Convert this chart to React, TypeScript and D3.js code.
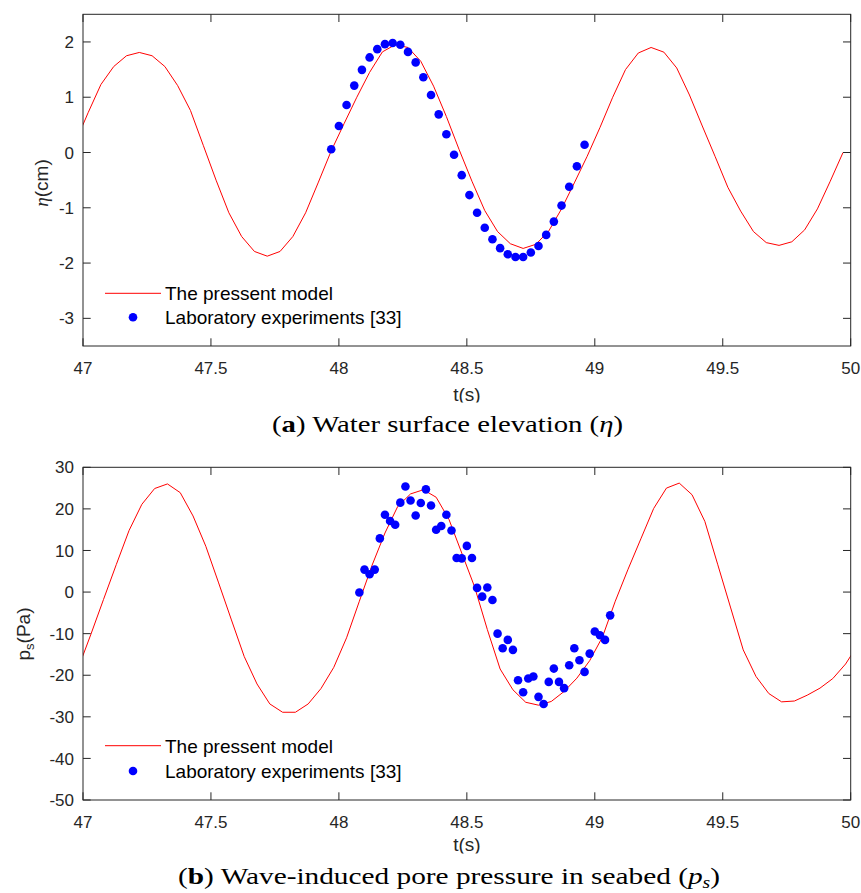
import React from 'react';
import * as d3 from 'd3';

// ---------- data ----------
const modelTimeA = [46.97, 47.02, 47.07, 47.12, 47.17, 47.22, 47.27, 47.32, 47.37, 47.42, 47.47, 47.52, 47.57, 47.62, 47.67, 47.72, 47.77, 47.82, 47.87, 47.92, 47.97, 48.02, 48.07, 48.12, 48.17, 48.22, 48.27, 48.32, 48.37, 48.42, 48.47, 48.52, 48.57, 48.62, 48.67, 48.72, 48.77, 48.82, 48.87, 48.92, 48.97, 49.02, 49.07, 49.12, 49.17, 49.22, 49.27, 49.32, 49.37, 49.42, 49.47, 49.52, 49.57, 49.62, 49.67, 49.72, 49.77, 49.82, 49.87, 49.92, 49.97, 50.0];
const modelEtaA = [0.18, 0.72, 1.23, 1.555, 1.75, 1.81, 1.75, 1.555, 1.21, 0.76, 0.13, -0.5, -1.09, -1.52, -1.79, -1.875, -1.79, -1.52, -1.09, -0.535, 0.03, 0.52, 1.0, 1.45, 1.82, 1.95, 1.9, 1.65, 1.2, 0.65, 0.05, -0.52, -1.05, -1.43, -1.65, -1.735, -1.66, -1.42, -1.02, -0.55, -0.07, 0.45, 1.0, 1.5, 1.8, 1.9, 1.815, 1.53, 1.04, 0.48, -0.07, -0.63, -1.06, -1.43, -1.63, -1.68, -1.615, -1.4, -1.02, -0.52, 0.0, 0.0];

const labTimeA = [47.97, 48.0, 48.03, 48.06, 48.09, 48.12, 48.15, 48.18, 48.21, 48.24, 48.27, 48.3, 48.33, 48.36, 48.39, 48.42, 48.45, 48.48, 48.51, 48.54, 48.57, 48.6, 48.63, 48.66, 48.69, 48.72, 48.75, 48.78, 48.81, 48.84, 48.87, 48.9, 48.93, 48.96];
const labEtaA = [0.06, 0.48, 0.86, 1.21, 1.495, 1.72, 1.87, 1.96, 1.98, 1.95, 1.82, 1.63, 1.36, 1.04, 0.69, 0.33, -0.04, -0.41, -0.77, -1.09, -1.36, -1.57, -1.73, -1.84, -1.89, -1.89, -1.81, -1.69, -1.49, -1.25, -0.96, -0.62, -0.25, 0.14];

const modelTimeB = [46.98, 47.03, 47.08, 47.13, 47.18, 47.23, 47.28, 47.33, 47.38, 47.43, 47.48, 47.53, 47.58, 47.63, 47.68, 47.73, 47.78, 47.83, 47.88, 47.93, 47.98, 48.03, 48.08, 48.13, 48.18, 48.23, 48.28, 48.33, 48.38, 48.43, 48.48, 48.53, 48.58, 48.63, 48.68, 48.73, 48.78, 48.83, 48.88, 48.93, 48.98, 49.03, 49.08, 49.13, 49.18, 49.23, 49.28, 49.33, 49.38, 49.43, 49.48, 49.53, 49.58, 49.63, 49.68, 49.73, 49.78, 49.83, 49.88, 49.93, 49.98, 50.03];
const modelPsB = [-18.5, -10.3, -1.8, 6.6, 14.8, 21.1, 24.9, 26.0, 23.9, 18.3, 11.0, 2.2, -6.7, -15.5, -22.1, -26.9, -28.9, -28.9, -26.9, -23.2, -18.1, -11.0, -2.2, 6.5, 14.2, 20.6, 23.6, 24.6, 22.8, 17.5, 9.4, 1.3, -9.0, -18.5, -23.5, -26.5, -27.2, -26.3, -23.9, -20.7, -16.5, -10.8, -2.2, 5.5, 12.8, 20.1, 25.0, 26.2, 23.4, 17.0, 6.7, -3.6, -13.9, -20.3, -24.4, -26.4, -26.2, -24.8, -23.1, -20.8, -17.3, -12.5];

const labTimeB = [48.08, 48.1, 48.12, 48.14, 48.16, 48.18, 48.2, 48.22, 48.24, 48.26, 48.28, 48.3, 48.32, 48.34, 48.36, 48.38, 48.4, 48.42, 48.44, 48.46, 48.48, 48.5, 48.52, 48.54, 48.56, 48.58, 48.6, 48.62, 48.64, 48.66, 48.68, 48.7, 48.72, 48.74, 48.76, 48.78, 48.8, 48.82, 48.84, 48.86, 48.88, 48.9, 48.92, 48.94, 48.96, 48.98, 49.0, 49.02, 49.04, 49.06];
const labPsB = [-0.1, 5.4, 4.3, 5.4, 12.9, 18.6, 17.1, 16.2, 21.5, 25.4, 22.0, 18.4, 21.4, 24.7, 20.8, 15.0, 15.9, 18.6, 14.8, 8.2, 8.1, 11.1, 8.2, 1.0, -1.1, 1.1, -1.9, -10.0, -13.5, -11.5, -13.9, -21.2, -24.1, -20.8, -20.3, -25.2, -26.9, -21.6, -18.4, -21.6, -23.1, -17.6, -13.5, -16.4, -19.2, -14.8, -9.5, -10.4, -11.5, -5.6];

const xTicks = [47, 47.5, 48, 48.5, 49, 49.5, 50];
const yTicksA = [-3, -2, -1, 0, 1, 2];
const yTicksB = [-50, -40, -30, -20, -10, 0, 10, 20, 30];
const legendLabels = ['The pressent model', 'Laboratory experiments [33]'];

// ---------- layout ----------
const W = 861;
const H = 893;
const PL = 83;
const PR = 850.7;
const SANS = "'Liberation Sans', Arial, Helvetica, sans-serif";
const SERIF = "'Liberation Serif', 'Times New Roman', serif";
const AX = '#262626';
const TICK = 7.7;

type PanelProps = {
  id: string;
  top: number;
  bottom: number;
  yDomain: [number, number];
  yTicks: number[];
  mt: number[];
  mv: number[];
  lt: number[];
  lv: number[];
  legendRows: [number, number];
  yLabel: React.ReactNode;
  xLabelBaseline: number;
  xLabelClip: number;
};

function Panel(p: PanelProps) {
  const x = d3.scaleLinear().domain([47, 50]).range([PL, PR]);
  const y = d3.scaleLinear().domain(p.yDomain).range([p.bottom, p.top]);
  const line = d3
    .line<number>()
    .x((_, i) => x(p.mt[i]))
    .y((d) => y(d));
  const clipId = `clip-${p.id}`;
  const lblClip = `lbl-${p.id}`;
  return (
    <g>
      <defs>
        <clipPath id={clipId}>
          <rect x={PL} y={p.top} width={PR - PL} height={p.bottom - p.top} />
        </clipPath>
        <clipPath id={lblClip}>
          <rect x={0} y={p.bottom} width={W} height={p.xLabelClip - p.bottom} />
        </clipPath>
      </defs>
      <path d={line(p.mv) || ''} fill="none" stroke="#ff0000" strokeWidth={1} clipPath={`url(#${clipId})`} />
      {p.lv.map((v, i) => (
        <circle key={i} cx={x(p.lt[i])} cy={y(v)} r={4.3} fill="#0000ff" />
      ))}
      {/* box */}
      <rect x={PL} y={p.top} width={PR - PL} height={p.bottom - p.top} fill="none" stroke={AX} strokeWidth={1} />
      {xTicks.map((t) => (
        <g key={`x${t}`}>
          <line x1={x(t)} x2={x(t)} y1={p.bottom} y2={p.bottom - TICK} stroke={AX} />
          <line x1={x(t)} x2={x(t)} y1={p.top} y2={p.top + TICK} stroke={AX} />
          <text x={x(t)} y={p.bottom + 27.6} textAnchor="middle" fontFamily={SANS} fontSize={17} fill={AX}>
            {String(t)}
          </text>
        </g>
      ))}
      {p.yTicks.map((t) => (
        <g key={`y${t}`}>
          <line x1={PL} x2={PL + TICK} y1={y(t)} y2={y(t)} stroke={AX} />
          <line x1={PR} x2={PR - TICK} y1={y(t)} y2={y(t)} stroke={AX} />
          <text x={74} y={y(t) + 6.1} textAnchor="end" fontFamily={SANS} fontSize={17} fill={AX}>
            {String(t)}
          </text>
        </g>
      ))}
      {/* x label */}
      <text
        x={(PL + PR) / 2}
        y={p.xLabelBaseline}
        textAnchor="middle"
        fontFamily={SANS}
        fontSize={19}
        fill={AX}
        clipPath={`url(#${lblClip})`}
      >
        t(s)
      </text>
      {p.yLabel}
      {/* legend */}
      <line x1={105} x2={161} y1={p.legendRows[0]} y2={p.legendRows[0]} stroke="#ff0000" strokeWidth={1} />
      <text x={165} y={p.legendRows[0] + 6.8} fontFamily={SANS} fontSize={19} fill="#000">
        {legendLabels[0]}
      </text>
      <circle cx={133} cy={p.legendRows[1]} r={4.3} fill="#0000ff" />
      <text x={165} y={p.legendRows[1] + 6.8} fontFamily={SANS} fontSize={19} fill="#000">
        {legendLabels[1]}
      </text>
    </g>
  );
}

export default function App() {
  return (
    <svg
      width={W}
      height={H}
      viewBox={`0 0 ${W} ${H}`}
      style={{ position: 'absolute', left: 0, top: 0, background: '#fff' }}
    >
      <rect x={0} y={0} width={W} height={H} fill="#fff" />
      <Panel
        id="a"
        top={14.3}
        bottom={346}
        yDomain={[-3.5, 2.5]}
        yTicks={yTicksA}
        mt={modelTimeA}
        mv={modelEtaA}
        lt={labTimeA}
        lv={labEtaA}
        legendRows={[293.3, 317.3]}
        xLabelBaseline={400.5}
        xLabelClip={402.5}
        yLabel={
          <text transform="translate(48,183) rotate(-90)" textAnchor="middle" fontFamily={SANS} fontSize={19} fill={AX}>
            <tspan fontFamily={SERIF} fontStyle="italic">η</tspan>
            <tspan>(cm)</tspan>
          </text>
        }
      />
      <Panel
        id="b"
        top={467.3}
        bottom={800}
        yDomain={[-50, 30]}
        yTicks={yTicksB}
        mt={modelTimeB}
        mv={modelPsB}
        lt={labTimeB}
        lv={labPsB}
        legendRows={[745.7, 771]}
        xLabelBaseline={850.5}
        xLabelClip={853.5}
        yLabel={
          <text transform="translate(30,634) rotate(-90)" textAnchor="middle" fontFamily={SANS} fontSize={19} fill={AX}>
            <tspan>p</tspan>
            <tspan fontSize={13} dy={4}>s</tspan>
            <tspan dy={-4}>(Pa)</tspan>
          </text>
        }
      />
      <text x={272} y={432} fontFamily={SERIF} fontSize={24} fill="#000" textLength={351} lengthAdjust="spacingAndGlyphs">
        <tspan>(</tspan>
        <tspan fontWeight="bold">a</tspan>
        <tspan>) Water surface elevation (</tspan>
        <tspan fontStyle="italic">η</tspan>
        <tspan>)</tspan>
      </text>
      <text x={178} y={884} fontFamily={SERIF} fontSize={24} fill="#000" textLength={542} lengthAdjust="spacingAndGlyphs">
        <tspan>(</tspan>
        <tspan fontWeight="bold">b</tspan>
        <tspan>) Wave-induced pore pressure in seabed (</tspan>
        <tspan fontStyle="italic">p</tspan>
        <tspan fontStyle="italic" fontSize={16} dy={4}>s</tspan>
        <tspan dy={-4}>)</tspan>
      </text>
    </svg>
  );
}
